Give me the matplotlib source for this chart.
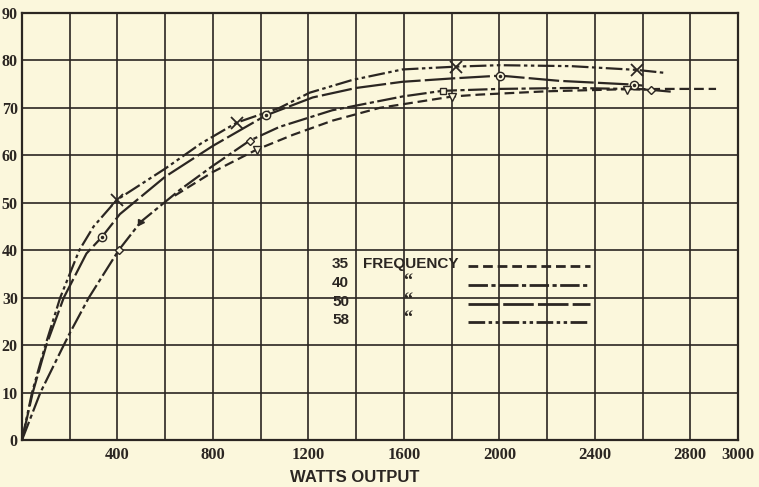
import numpy as np
import matplotlib
matplotlib.use('Agg')
import matplotlib.pyplot as plt

plt.rcParams['lines.scale_dashes'] = False

# efficiency curves (watts output, per cent)
watts_58 = [0, 42, 98, 160, 240, 300, 397, 600, 750, 900, 1079, 1205, 1385, 1594, 1820, 2000, 2300, 2577, 2690]
eff_58 = [0, 10, 20, 30, 40, 45, 50.6, 57.2, 62.5, 66.9, 70.0, 73.2, 75.9, 78.1, 78.7, 79.0, 78.8, 78.0, 77.4]

watts_50 = [0, 45, 102, 175, 270, 335, 410, 600, 800, 1021, 1218, 1400, 1594, 1800, 2004, 2251, 2565, 2600]
eff_50 = [0, 10, 20, 30, 39.3, 42.8, 47.6, 55.5, 62.0, 68.4, 72.2, 74.2, 75.5, 76.2, 76.8, 75.7, 74.9, 74.7]

watts_40 = [0, 77, 175, 200, 280, 405, 498, 661, 800, 954, 1079, 1300, 1594, 1762, 2000, 2300, 2536, 2636, 2724]
eff_40 = [0, 10, 20, 22.5, 30, 40, 46, 52.7, 57.8, 63.1, 66.0, 69.5, 72.4, 73.6, 74.0, 74.2, 74.0, 73.8, 73.4]

watts_35 = [640, 800, 983, 1134, 1300, 1498, 1803, 1916, 2200, 2500, 2700, 2908]
eff_35 = [51.5, 56.5, 61.2, 64.3, 67.3, 70.0, 72.4, 72.8, 73.5, 73.9, 74.0, 74.0]

# plotted observation marks
x_58 = [397, 900, 1820, 2577]
y_58 = [50.6, 66.9, 78.7, 78.0]
x_50 = [335, 1021, 2004, 2565]
y_50 = [42.8, 68.4, 76.8, 74.9]
x_40 = [405, 954, 2636]
y_40 = [40, 63.1, 73.8]
x_40sq = [1762]
y_40sq = [73.6]
x_40arrow = [498]
y_40arrow = [46]
x_35 = [983, 1803, 2536]
y_35 = [61.2, 72.4, 73.8]

x_labels = [400, 800, 1200, 1600, 2000, 2400, 2800, 3000]
y_labels = list(range(0, 91, 10))
freqs = ['35', '40', '50', '58']
ink = '#2b2622'
paper = '#fbf7dc'

dash_35 = (0, (7, 3.5))
dash_40 = (0, (14, 2.5, 3, 2.5))
dash_50 = (0, (22, 3))
dash_58 = (0, (12, 2.5, 2.5, 2.5, 2.5, 2.5))

fig = plt.figure(figsize=(7.59, 4.87), dpi=100, facecolor=paper)
ax = fig.add_axes([22 / 759, 1 - 440 / 487, 716 / 759, 427 / 487])
ax.set_facecolor(paper)

lw = 1.6
ax.plot(watts_58, eff_58, color=ink, lw=lw, linestyle=dash_58)
ax.plot(watts_50, eff_50, color=ink, lw=lw, linestyle=dash_50)
ax.plot(watts_40, eff_40, color=ink, lw=lw, linestyle=dash_40)
ax.plot(watts_35, eff_35, color=ink, lw=lw, linestyle=dash_35)

ax.plot(x_58, y_58, 'x', color=ink, ms=8, mew=1.3)
ax.plot(x_50, y_50, 'o', mfc=paper, mec=ink, ms=6, mew=1.0)
ax.plot(x_50, y_50, '.', color=ink, ms=3)
ax.plot(x_40, y_40, 'D', mfc=paper, mec=ink, ms=4.5, mew=1.0)
ax.plot(x_40sq, y_40sq, 's', mfc=paper, mec=ink, ms=5, mew=1.0)
ax.plot(x_40arrow, y_40arrow, '>', color=ink, ms=5)
ax.plot(x_35, y_35, 'v', mfc=paper, mec=ink, ms=5.5, mew=1.0)

ax.set_xlim(0, 3000)
ax.set_ylim(0, 90)
ax.set_xticks(x_labels)
ax.set_xticklabels([str(v) for v in x_labels], family='Liberation Serif', fontsize=12,
                   weight='bold', color=ink)
ax.set_xticks(np.arange(0, 3001, 200), minor=True)
ax.set_yticks(y_labels)
ax.set_yticklabels([str(v) for v in y_labels], family='Liberation Serif', fontsize=11.5,
                   weight='bold', color=ink)
ax.tick_params(which='both', length=0, colors=ink)
ax.tick_params(axis='x', pad=5)
ax.tick_params(axis='y', pad=3)
ax.grid(True, which='both', color=ink, lw=1.2)
ax.set_axisbelow(True)
for side in ax.spines.values():
    side.set_color(ink)
    side.set_linewidth(1.6)

# hand drawn key
rows_y = [0.412, 0.368, 0.323, 0.281]
styles = [dash_35, dash_40, dash_50, dash_58]
key_font = dict(family='Liberation Sans', fontsize=11, weight='bold', color=ink, va='center')
for i, f in enumerate(freqs):
    ax.text(0.433, rows_y[i], f, transform=ax.transAxes, **key_font)
    if i == 0:
        ax.text(0.476, rows_y[i], 'FREQUENCY', transform=ax.transAxes, **key_font)
    else:
        ax.text(0.539, rows_y[i] + 0.004, '\u201c', transform=ax.transAxes, ha='center',
                family='Liberation Serif', fontsize=13, weight='bold', color=ink, va='center')
    ax.plot([0.623, 0.793], [rows_y[i] - 0.005] * 2, transform=ax.transAxes,
            color=ink, lw=2.0, linestyle=styles[i])

fig.text(355 / 759, 1 - 478 / 487, 'WATTS OUTPUT', family='Liberation Sans', fontsize=12,
         weight='bold', color=ink, ha='center', va='center')

fig.savefig('out.png', dpi=100, facecolor=paper)
